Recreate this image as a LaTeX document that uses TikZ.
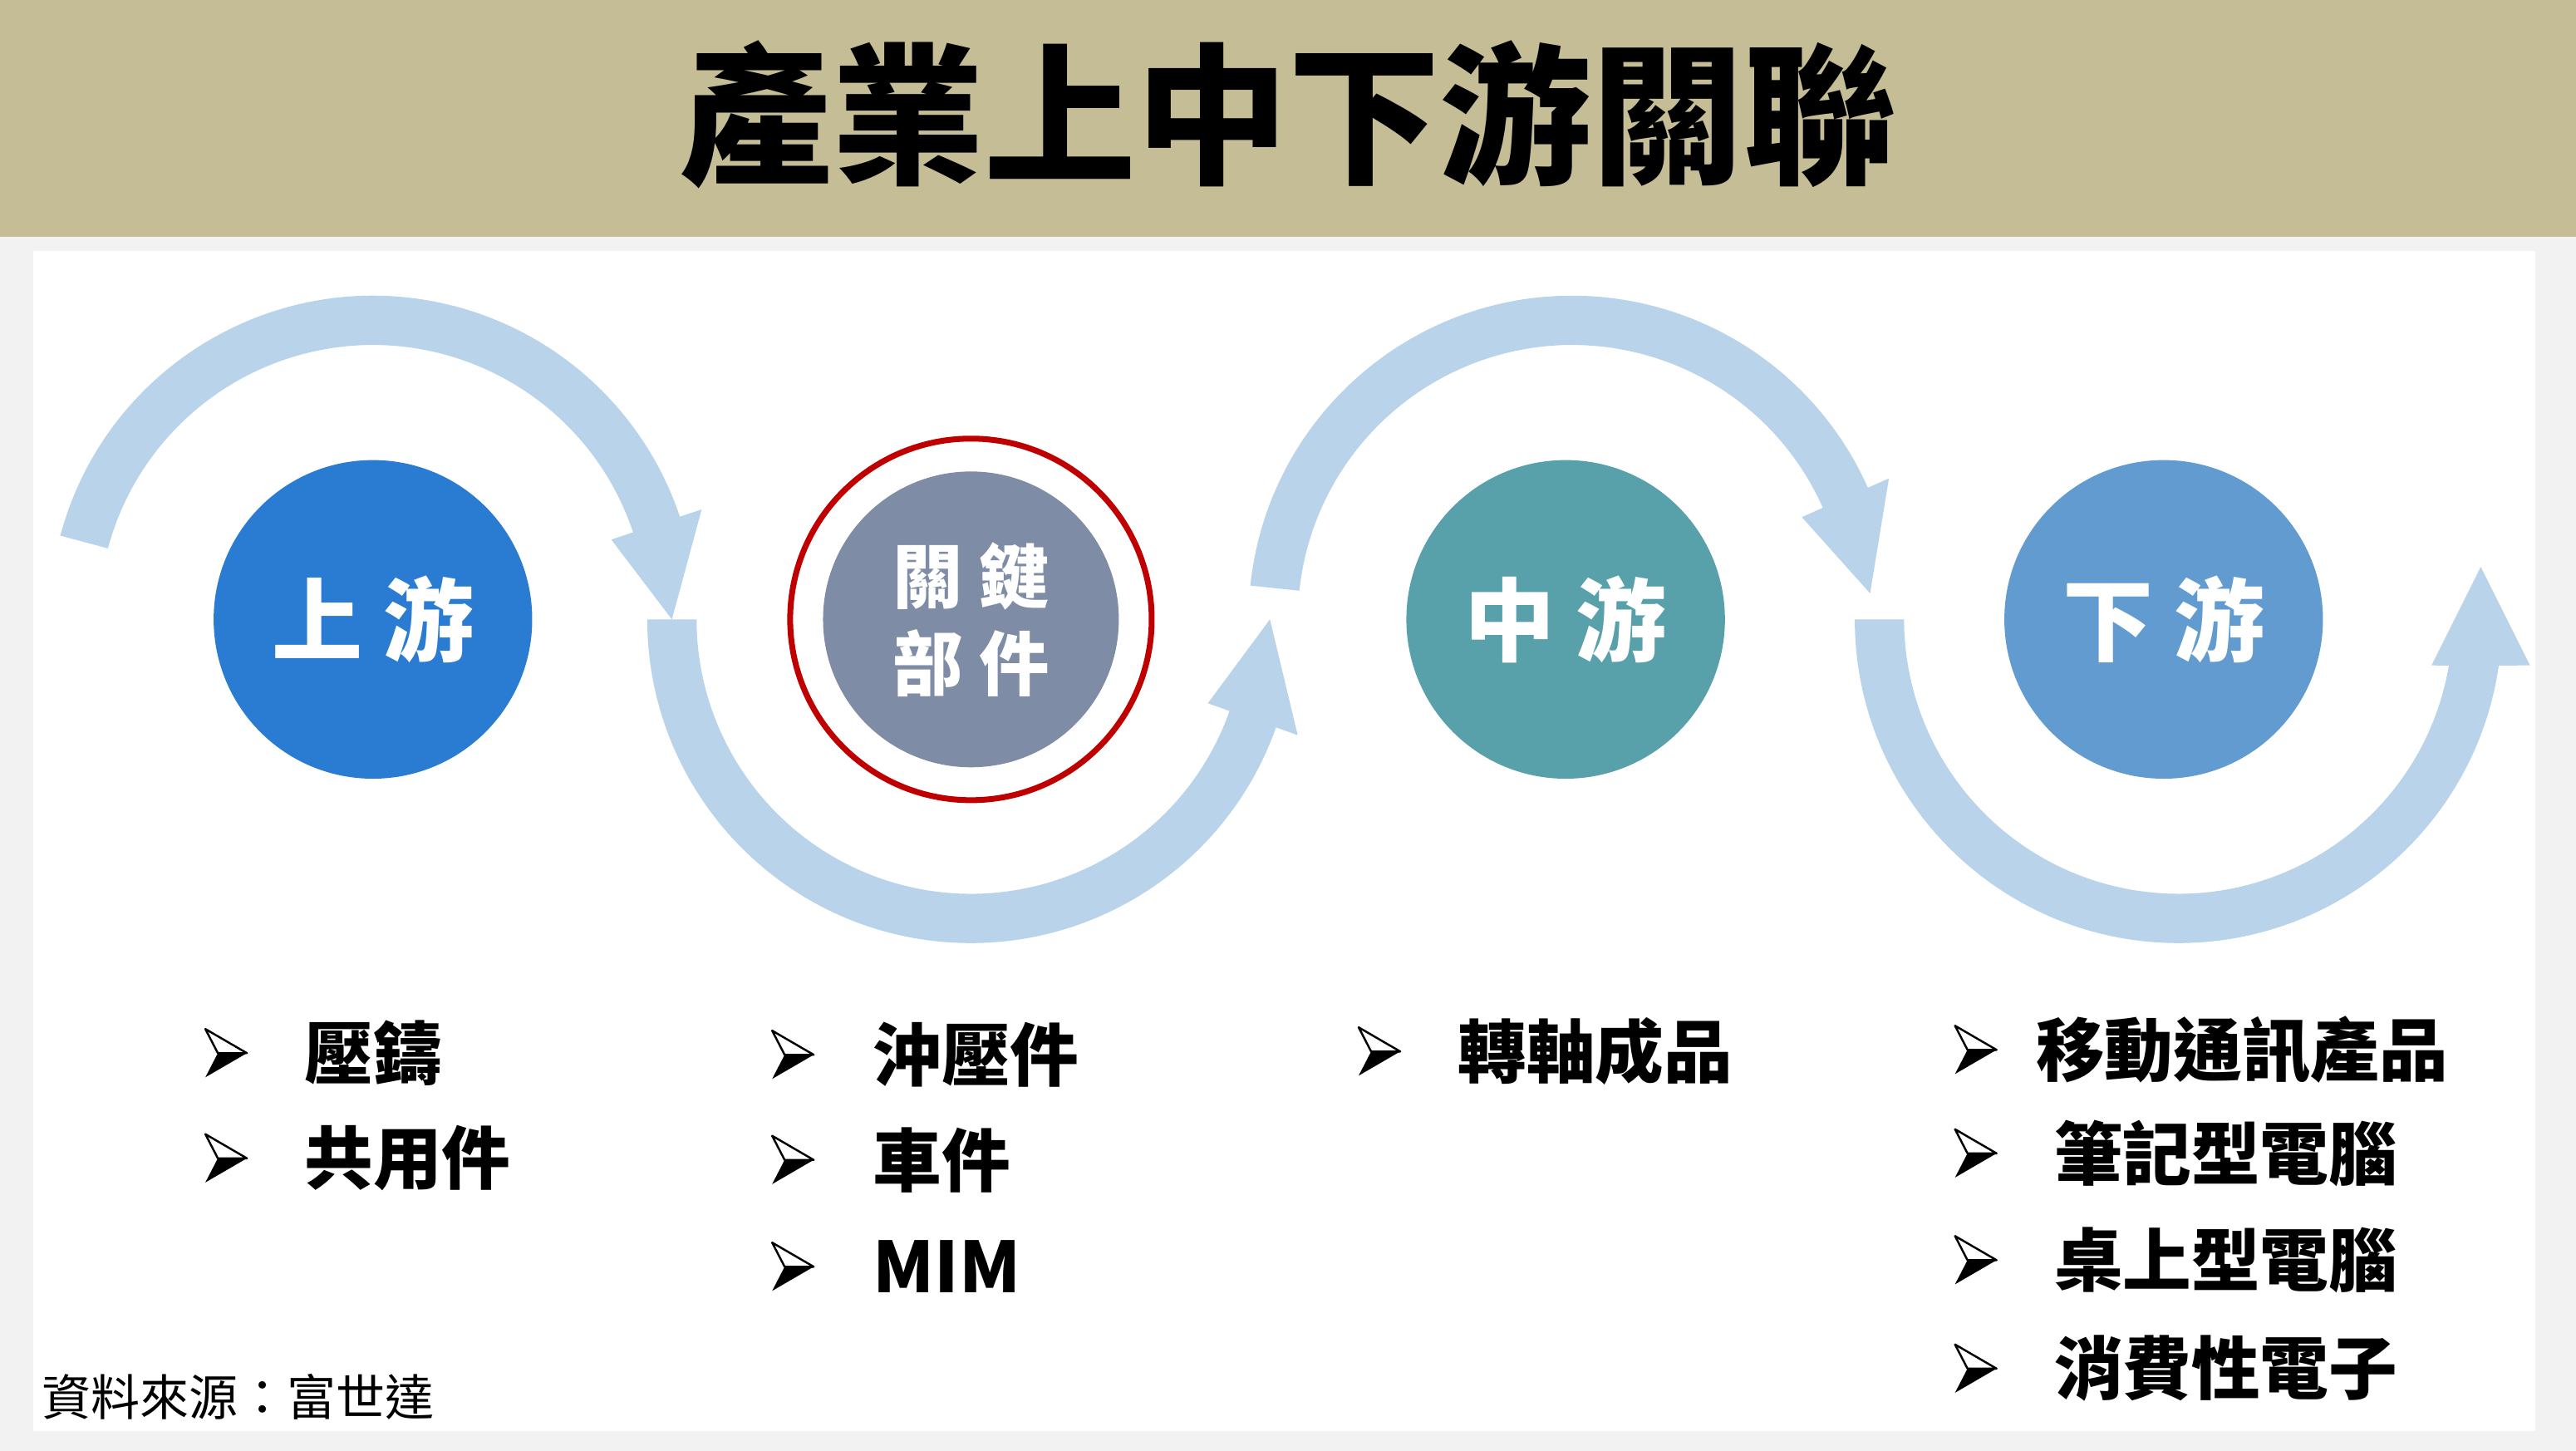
\documentclass[tikz,border=0pt]{standalone}
\usepackage{fontspec}
\setmainfont{Noto Sans CJK TC}
\def\uu{0.5621pt}
\definecolor{banner}{HTML}{C5BD96}
\definecolor{bgray}{HTML}{F2F2F2}
\definecolor{arrowc}{HTML}{B8D3EA}
\definecolor{cUp}{HTML}{2A7CD3}
\definecolor{cKey}{HTML}{7F8CA6}
\definecolor{cMid}{HTML}{58A0AA}
\definecolor{cDown}{HTML}{619BD0}
\definecolor{ringred}{HTML}{C00000}
\tikzset{
  bubble/.style={circle, inner sep=0pt, minimum size=109pt, text=white,
    font=\fontsize{31}{37}\selectfont\bfseries},
  itemtext/.style={anchor=west, inner sep=0pt, text=black,
    font=\fontsize{23.5}{28}\selectfont\bfseries},
  bul/.pic={
    \fill[black] (7.6,0) -- (25.3,0) -- (0,-14.7) -- cycle;
    \draw[black, line width=0.7pt, line join=round, fill=white] (0,14.7) -- (25.3,0) -- (7.6,0) -- cycle;
  }
}
\begin{document}
\begin{tikzpicture}[x=\uu, y=\uu]
\useasboundingbox (0,0) rectangle (1568,883);
\fill[bgray] (0,0) rectangle (1568,883);
\fill[banner] (0,739) rectangle (1568,883);
\fill[white] (20,12) rectangle (1543,730);

% title
\node[inner sep=0pt, font=\fontsize{52}{60}\selectfont\bfseries] (title) at (784,813) {產業上中下游關聯};

% arrows
\begin{scope}[shift={(227,506)}]
\fill[arrowc] (165:197) arc[start angle=165, end angle=18.5, radius=197*\uu]
  -- (18.5:211) -- (0:182) -- (18.5:153) -- (18.5:167)
  arc[start angle=18.5, end angle=165, radius=167*\uu] -- cycle;
\end{scope}
\begin{scope}[shift={(591,506)}]
\fill[arrowc] (180:197) arc[start angle=180, end angle=340.5, radius=197*\uu]
  -- (340.5:211) -- (360:182) -- (340.5:153) -- (340.5:167)
  arc[start angle=340.5, end angle=180, radius=167*\uu] -- cycle;
\end{scope}
\begin{scope}[shift={(957,506)}]
\fill[arrowc] (174:197) arc[start angle=174, end angle=24, radius=197*\uu]
  -- (24:211) -- (5:182) -- (24:153) -- (24:167)
  arc[start angle=24, end angle=174, radius=167*\uu] -- cycle;
\end{scope}
\begin{scope}[shift={(1326,506)}]
\fill[arrowc] (180:197) arc[start angle=180, end angle=351.8, radius=197*\uu]
  -- (214,-28) -- (184,32) -- (154,-28) -- (350.3:167)
  arc[start angle=350.3, end angle=180, radius=167*\uu] -- cycle;
\end{scope}

% circles
\node[bubble, fill=cUp] (up) at (227,506) {上 游};
\node[circle, draw=ringred, line width=2pt, minimum size=123.7pt, inner sep=0pt] (ring) at (591,506) {};
\node[bubble, fill=cKey, minimum size=101.2pt, align=center,
  font=\fontsize{24}{29.8}\selectfont\bfseries] (key) at (591,506) {關 鍵\\部 件};
\node[bubble, fill=cMid] (mid) at (953,506) {中 游};
\node[bubble, fill=cDown] (down) at (1317,506) {下 游};

% column 1
\pic at (125,242) {bul};
\node[itemtext] (i11) at (185,242) {壓鑄};
\pic at (125,178) {bul};
\node[itemtext] (i12) at (185,178) {共用件};
% column 2
\pic at (470,241) {bul};
\node[itemtext] (i21) at (531,241) {沖壓件};
\pic at (470,177) {bul};
\node[itemtext] (i22) at (531,177) {車件};
\pic at (470,112) {bul};
\node[itemtext, font=\fontsize{24}{28}\selectfont\bfseries] (i23) at (531,112) {MIM};
% column 3
\pic at (827,243) {bul};
\node[itemtext] (i31) at (887,243) {轉軸成品};
% column 4
\pic at (1190,244) {bul};
\node[itemtext] (i41) at (1239,244) {移動通訊產品};
\pic at (1190,181) {bul};
\node[itemtext] (i42) at (1250,181) {筆記型電腦};
\pic at (1190,116) {bul};
\node[itemtext] (i43) at (1250,116) {桌上型電腦};
\pic at (1190,50) {bul};
\node[itemtext] (i44) at (1250,50) {消費性電子};

% source
\node[anchor=west, inner sep=0pt, font=\fontsize{16.8}{20}\selectfont] (src) at (25,33) {資料來源：富世達};
\end{tikzpicture}
\end{document}
